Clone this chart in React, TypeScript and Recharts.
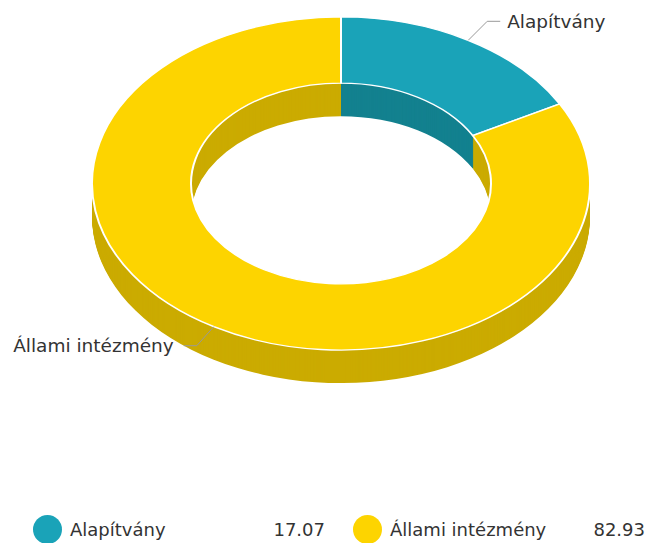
import React from 'react';
import { PieChart, Pie, Cell, Legend } from 'recharts';

const names = ['Alapítvány', 'Állami intézmény'];
const values = [17.07, 82.93];
const topColors = ['#1aa3b8', '#fdd400'];
const sideColors = ['#13818f', '#cbab00'];

const data = names.map((name, i) => ({ name, value: values[i] }));

const W = 647;
const CX = 341;
const CY = 183.5;
const R = 249;
const INNER = 150;
const K = 0.669; // vertical squash of the 3d donut
const DEPTH = 33;
const RAD = Math.PI / 180;

const FONT = '"DejaVu Sans", Verdana, sans-serif';

// side layers, deepest first
const layers = Array.from({ length: DEPTH }, (_, i) => DEPTH - i);

const renderLabel = (props: any) => {
  const { cx, cy, midAngle, outerRadius, index } = props;
  const cos = Math.cos(-midAngle * RAD);
  const sin = Math.sin(-midAngle * RAD);
  const sx = cx + outerRadius * cos;
  const sy = cy + outerRadius * K * sin;
  const right = cos >= 0;
  const mx = sx + (right ? 19 : -17);
  const my = sy + (sin < 0 ? -19 : 19);
  const ex = mx + (right ? 13 : -13);
  return (
    <g key={`lbl-${index}`}>
      <polyline points={`${sx},${sy} ${mx},${my} ${ex},${my}`} fill="none" stroke="#999" strokeWidth={1} />
      <text
        x={ex + (right ? 7 : -10)}
        y={my}
        textAnchor={right ? 'start' : 'end'}
        dominantBaseline="central"
        fill="#333"
        fontSize={18.5}
        fontFamily={FONT}
      >
        {names[index]}
      </text>
    </g>
  );
};

const renderLegend = () => (
  <div style={{ display: 'flex', fontFamily: FONT, fontSize: 18, color: '#333' }}>
    {names.map((n, i) => (
      <div key={n} style={{ display: 'flex', alignItems: 'center', width: 320, height: 30 }}>
        <span
          style={{
            display: 'inline-block',
            width: 29,
            height: 29,
            borderRadius: '50%',
            background: topColors[i],
            marginLeft: 28,
            marginRight: 8,
          }}
        />
        <span style={{ flex: 1 }}>{n}</span>
        <span style={{ width: 60, textAlign: 'right' }}>{values[i].toFixed(2)}</span>
      </div>
    ))}
  </div>
);

const App: React.FC = () => {
  const H = 600;
  return (
    <div style={{ position: 'relative', width: W, height: 543, background: '#fff', overflow: 'hidden' }}>
      <style>{'body{margin:0}'}</style>
      {/* 3d donut: drawn round, then squashed */}
      <div style={{ position: 'absolute', left: 0, top: 0, transform: `scaleY(${K})`, transformOrigin: '0 0' }}>
        <PieChart width={W} height={H} margin={{ top: 0, right: 0, bottom: 0, left: 0 }}>
          {layers.map((d) => (
            <Pie
              key={`side-${d}`}
              data={data}
              dataKey="value"
              nameKey="name"
              cx={CX}
              cy={CY / K + d / K}
              innerRadius={INNER}
              outerRadius={R}
              startAngle={90}
              endAngle={-270}
              stroke="none"
              isAnimationActive={false}
              legendType="none"
            >
              {data.map((e, i) => (
                <Cell key={e.name} fill={sideColors[i]} />
              ))}
            </Pie>
          ))}
          <Pie
            data={data}
            dataKey="value"
            nameKey="name"
            cx={CX}
            cy={CY / K}
            innerRadius={INNER}
            outerRadius={R}
            startAngle={90}
            endAngle={-270}
            stroke="#fff"
            strokeWidth={2}
            isAnimationActive={false}
          >
            {data.map((e, i) => (
              <Cell key={e.name} fill={topColors[i]} />
            ))}
          </Pie>
        </PieChart>
      </div>
      {/* labels + legend overlay */}
      <div style={{ position: 'absolute', left: 0, top: 0 }}>
        <PieChart width={W} height={543} margin={{ top: 0, right: 0, bottom: 0, left: 0 }}>
          <Pie
            data={data}
            dataKey="value"
            nameKey="name"
            cx={CX}
            cy={CY}
            innerRadius={INNER}
            outerRadius={R}
            startAngle={90}
            endAngle={-270}
            fill="none"
            stroke="none"
            label={renderLabel}
            labelLine={false}
            isAnimationActive={false}
          />
          <Legend
            content={renderLegend}
            wrapperStyle={{ position: 'absolute', left: 5, top: 514, width: 640 }}
          />
        </PieChart>
      </div>
    </div>
  );
};

export default App;
